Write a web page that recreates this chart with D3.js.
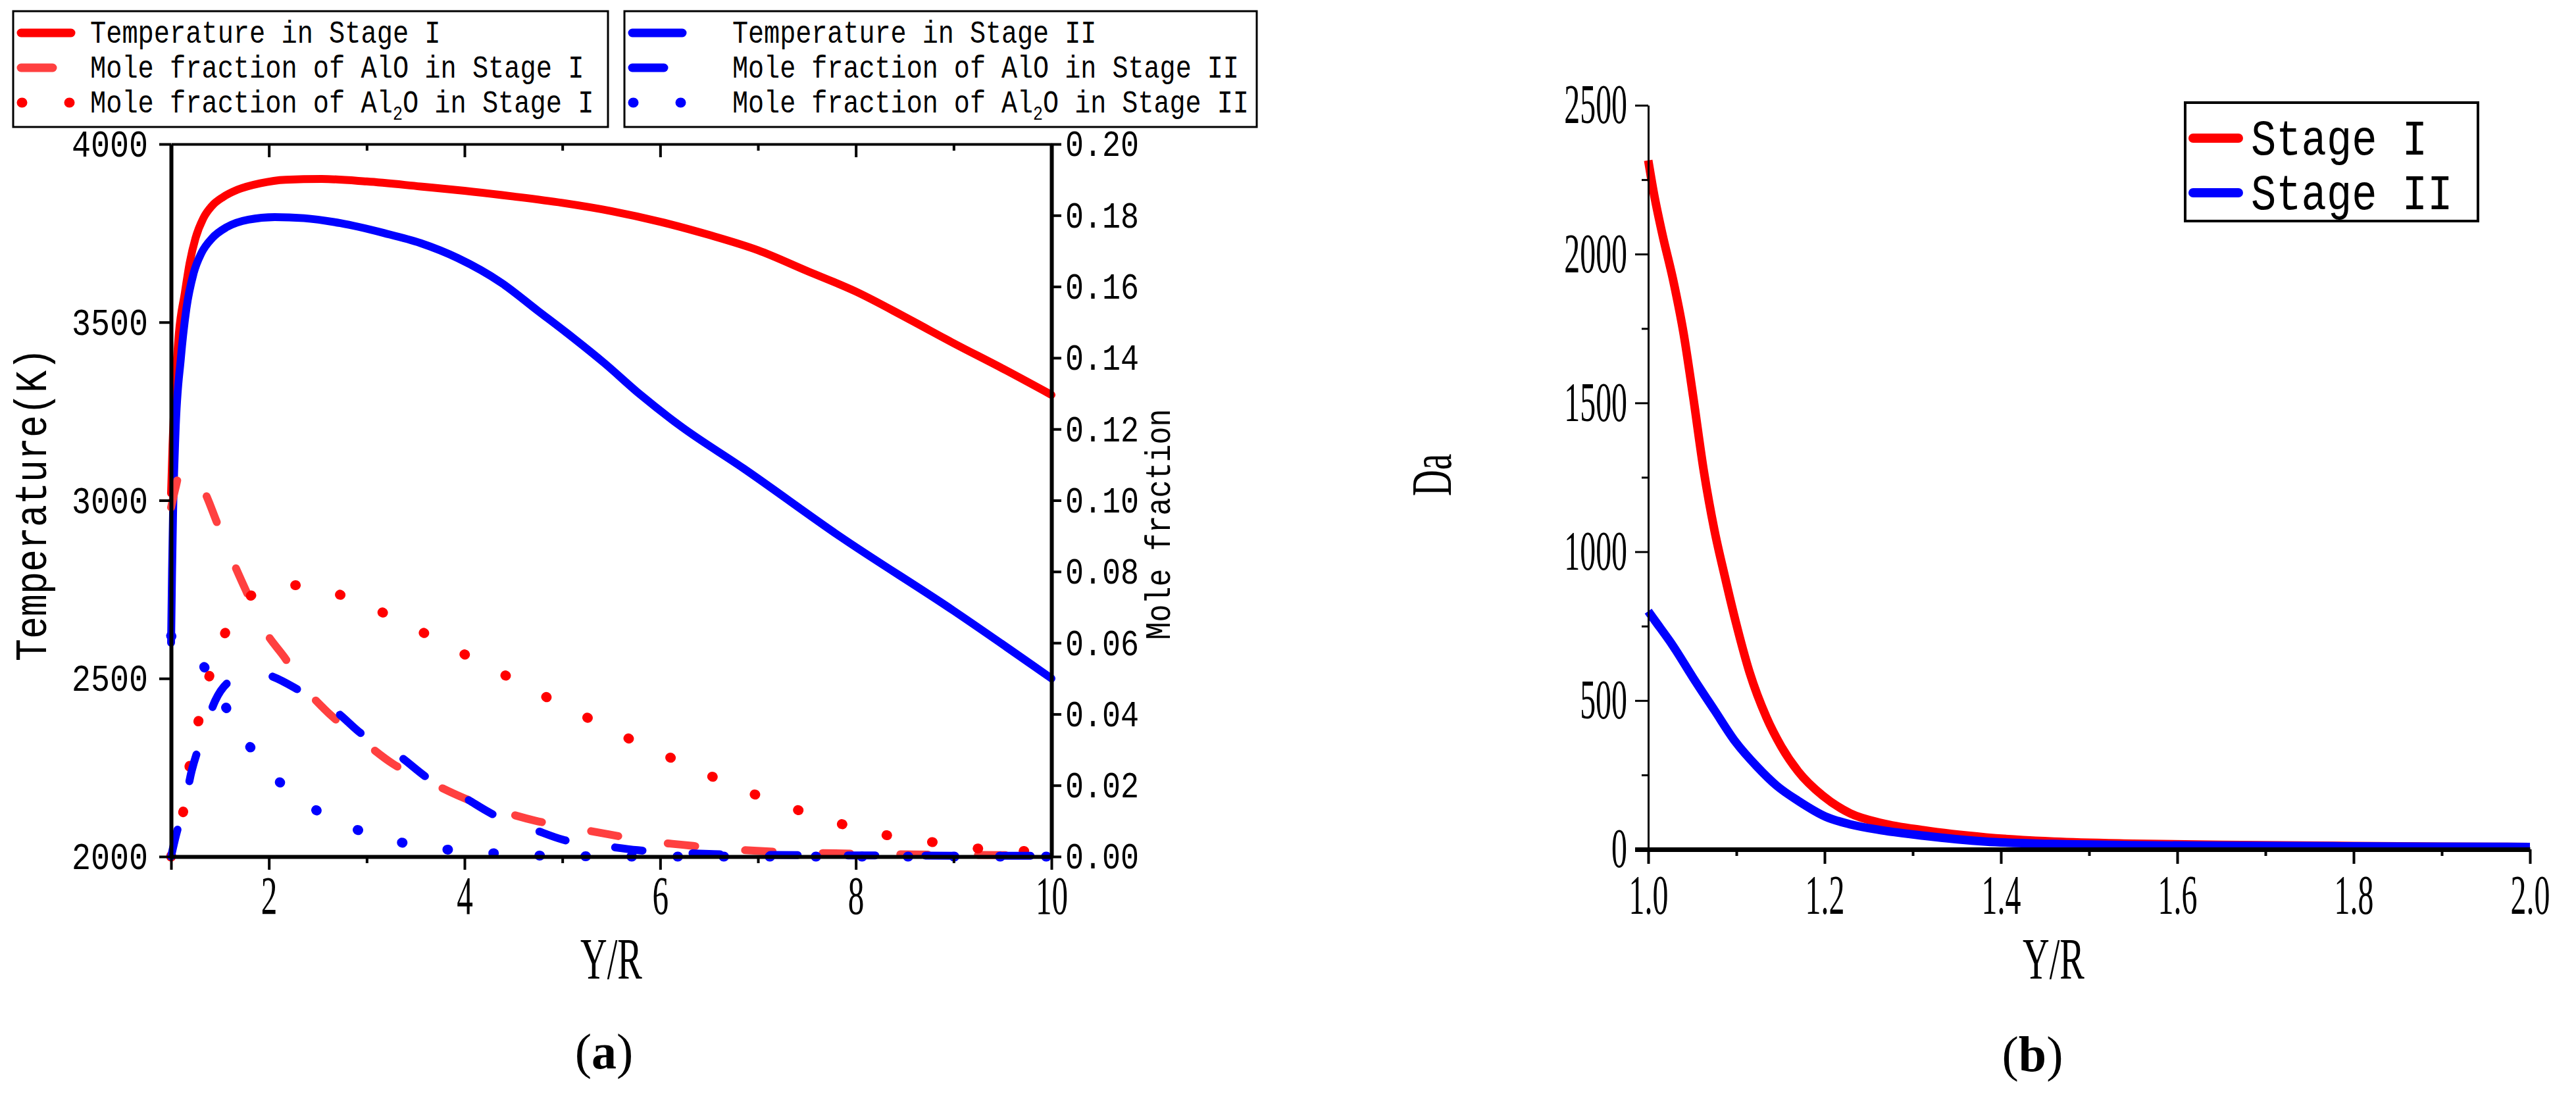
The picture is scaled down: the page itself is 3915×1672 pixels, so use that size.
<!DOCTYPE html>
<html>
<head>
<meta charset="utf-8">
<script src="https://cdn.jsdelivr.net/npm/d3@7"></script>
<style>
body { margin: 0; background: #fff; }
</style>
</head>
<body>
<svg id="chart" width="3915" height="1672"></svg>
<script>
// ---------- panel (a): temperature and mole fractions along Y/R ----------
var tempIx  = [1.0, 1.015, 1.045, 1.08, 1.14, 1.19, 1.25, 1.33, 1.42, 1.53, 1.68, 1.91, 2.17, 2.54, 3.0, 3.55, 4.0, 4.5, 5.0, 5.5, 6.0, 6.5, 7.0, 7.5, 8.0, 8.5, 9.0, 9.5, 10];
var tempIy  = [3020, 3154, 3329, 3469, 3581, 3666, 3736, 3792, 3827, 3851, 3872, 3890, 3900, 3902, 3895, 3881, 3869, 3853, 3835, 3812, 3782, 3745, 3702, 3644, 3586, 3515, 3441, 3370, 3296];
var tempIIx = [1.0, 1.01, 1.02, 1.045, 1.10, 1.157, 1.23, 1.31, 1.42, 1.57, 1.79, 2.06, 2.36, 2.73, 3.18, 3.55, 3.93, 4.38, 4.75, 5.05, 5.43, 5.8, 6.2, 6.85, 7.83, 9.0, 10];
var tempIIy = [2600, 2800, 2960, 3189, 3399, 3539, 3637, 3694, 3736, 3767, 3788, 3795, 3792, 3778, 3750, 3722, 3680, 3610, 3532, 3469, 3385, 3296, 3210, 3090, 2900, 2690, 2500];

var aloIx  = [1.0, 1.05, 1.09, 1.15, 1.25, 1.34, 1.47, 1.64, 1.77, 1.96, 2.16, 2.39, 2.56, 2.98, 3.27, 3.66, 3.97, 4.38, 4.72, 5.13, 5.48, 5.88, 6.23, 6.64, 6.99, 7.5, 8.0, 9.0, 10];
var aloIy  = [0.098, 0.104, 0.108, 0.1085, 0.1065, 0.1025, 0.0937, 0.0824, 0.0744, 0.0634, 0.0559, 0.0466, 0.0416, 0.032, 0.026, 0.0207, 0.0167, 0.0127, 0.0101, 0.008, 0.0062, 0.0043, 0.0033, 0.0022, 0.0016, 0.0011, 0.0008, 0.0005, 0.0004];
var al2oIx = [1.0, 1.03, 1.14, 1.2, 1.3, 1.41, 1.58, 1.87, 2.32, 2.76, 3.18, 3.59, 3.99, 4.40, 4.80, 5.22, 5.62, 6.04, 6.47, 6.87, 7.31, 7.74, 8.18, 8.65, 9.08, 9.55, 10];
var al2oIy = [0.0, 0.003, 0.0151, 0.0277, 0.0403, 0.0525, 0.0643, 0.074, 0.0762, 0.0732, 0.0683, 0.0627, 0.0569, 0.0511, 0.0453, 0.0395, 0.0339, 0.0286, 0.0232, 0.0185, 0.014, 0.0101, 0.0067, 0.0047, 0.0027, 0.0018, 0.0013];
var aloIIx  = [1.0, 1.06, 1.12, 1.21, 1.31, 1.45, 1.66, 1.85, 2.04, 2.34, 2.69, 2.95, 3.33, 3.62, 3.99, 4.28, 4.71, 5.01, 5.45, 5.77, 6.2, 6.55, 7.5, 10];
var aloIIy  = [0.0, 0.007, 0.0122, 0.024, 0.0328, 0.0437, 0.0504, 0.052, 0.0505, 0.0462, 0.0406, 0.0344, 0.0283, 0.0221, 0.0167, 0.012, 0.0076, 0.0047, 0.0029, 0.0018, 0.0011, 0.0007, 0.0004, 0.0002];
var al2oIIx = [1.0, 1.03, 1.32, 1.55, 1.78, 2.05, 2.44, 2.86, 3.30, 3.75, 4.21, 4.66, 5.12, 6.0, 10];
var al2oIIy = [0.062, 0.0609, 0.054, 0.0424, 0.0319, 0.0226, 0.0138, 0.008, 0.0043, 0.0022, 0.0011, 0.0004, 0.0001, 0.0, 0.0];

var tempTicks  = [2000, 2500, 3000, 3500, 4000];
var fracTicks  = [0, 0.02, 0.04, 0.06, 0.08, 0.10, 0.12, 0.14, 0.16, 0.18, 0.20];
var yrTicksA   = [2, 4, 6, 8, 10];
var yrMinorA   = [1, 3, 5, 7, 9];
var legendA1   = ["Temperature in Stage I", "Mole fraction of AlO in Stage I", "Mole fraction of Al_2O in Stage I"];
var legendA2   = ["Temperature in Stage II", "Mole fraction of AlO in Stage II", "Mole fraction of Al_2O in Stage II"];

// ---------- panel (b): Damkohler number along Y/R ----------
var daIx  = [1.0, 1.006, 1.016, 1.028, 1.04, 1.051, 1.063, 1.075, 1.087, 1.099, 1.115, 1.134, 1.151, 1.17, 1.198, 1.229, 1.265, 1.312, 1.383, 1.46, 1.55, 1.65, 1.8, 1.9, 2.0];
var daIy  = [2315, 2210, 2067, 1916, 1735, 1520, 1271, 1073, 915, 767, 594, 444, 345, 262, 180, 121, 88, 64, 40, 26, 19, 15, 11, 9, 8];
var daIIx = [1.0, 1.006, 1.028, 1.051, 1.075, 1.099, 1.123, 1.146, 1.17, 1.201, 1.229, 1.265, 1.312, 1.383, 1.46, 1.55, 1.65, 1.8, 2.0];
var daIIy = [800, 775, 684, 576, 468, 361, 279, 213, 163, 110, 84, 64, 46, 26, 18, 14, 12, 10, 8];

var yrTicksB = [1.0, 1.2, 1.4, 1.6, 1.8, 2.0];
var yrMinorB = [1.1, 1.3, 1.5, 1.7, 1.9];
var daTicks  = [0, 500, 1000, 1500, 2000, 2500];
var daMinor  = [250, 750, 1250, 1750, 2250];
var legendB  = ["Stage I", "Stage II"];

var RED = "#ff0000", LIGHTRED = "#ff4040", BLUE = "#0000ff";
var MONO = "'Liberation Mono', 'DejaVu Sans Mono', monospace";
var SERIF = "'Liberation Serif', 'DejaVu Serif', serif";

var svg = d3.select("#chart");
svg.append("rect").attr("width", 3915).attr("height", 1672).attr("fill", "#fff");

function pts(xs, ys) { return xs.map(function(d, i) { return [d, ys[i]]; }); }

// text in half-em cells, like the CJK font used in the original figure
function cells(sel, size) {
    sel.attr("font-family", MONO)
        .attr("font-size", size)
        .attr("fill", "#000")
        .attr("textLength", function() { return this.textContent.length * size * 0.5; })
        .attr("lengthAdjust", "spacingAndGlyphs");
}

// narrow serif: squeeze the natural width by k
function narrow(sel, size, k) {
    sel.attr("font-family", SERIF).attr("font-size", size).attr("fill", "#000");
    sel.each(function() {
        var w = this.getComputedTextLength();
        d3.select(this).attr("textLength", w * k).attr("lengthAdjust", "spacingAndGlyphs");
    });
}

// legend text with an optional "_2" subscript, squeezed horizontally by k
function label(g, str, x, y, size, k) {
    var parts = str.split("_2");
    var t = g.append("g").attr("transform", "translate(" + x + "," + y + ") scale(" + k + ",1)")
        .append("text").attr("font-family", MONO).attr("font-size", size).attr("fill", "#000");
    t.append("tspan").text(parts[0]);
    if (parts.length > 1) {
        t.append("tspan").attr("font-size", size * 0.62).attr("dy", size * 0.22).text("2");
        t.append("tspan").attr("dy", -size * 0.22).text(parts[1]);
    }
    return t;
}

function styleAxis(g, lineW, tickW) {
    g.attr("font-family", null).attr("font-size", null);
    g.select(".domain").attr("stroke", "#000").attr("stroke-width", lineW);
    g.selectAll(".tick line").attr("stroke", "#000").attr("stroke-width", tickW);
}

// ================= panel (a) =================
var ax = {left: 260, right: 1598, top: 219, bottom: 1302};

var xA = d3.scaleLinear().domain([1, 10]).range([ax.left, ax.right]);
var yTemp = d3.scaleLinear().domain([2000, 4000]).range([ax.bottom, ax.top]);
var yFrac = d3.scaleLinear().domain([0, 0.2]).range([ax.bottom, ax.top]);

var lineTemp = d3.line().x(function(d) { return xA(d[0]); }).y(function(d) { return yTemp(d[1]); }).curve(d3.curveMonotoneX);
var lineFrac = d3.line().x(function(d) { return xA(d[0]); }).y(function(d) { return yFrac(d[1]); }).curve(d3.curveMonotoneX);

var DASH = "42,76", DOT = "1,69";

var plotA = svg.append("g");
plotA.append("path").attr("d", lineTemp(pts(tempIx, tempIy)))
    .attr("fill", "none").attr("stroke", RED).attr("stroke-width", 12).attr("stroke-linecap", "round");
plotA.append("path").attr("d", lineTemp(pts(tempIIx, tempIIy)))
    .attr("fill", "none").attr("stroke", BLUE).attr("stroke-width", 12).attr("stroke-linecap", "round");
plotA.append("path").attr("d", lineFrac(pts(aloIx, aloIy)))
    .attr("fill", "none").attr("stroke", LIGHTRED).attr("stroke-width", 12)
    .attr("stroke-dasharray", DASH).attr("stroke-linecap", "round");
plotA.append("path").attr("d", lineFrac(pts(al2oIIx, al2oIIy)))
    .attr("fill", "none").attr("stroke", BLUE).attr("stroke-width", 15)
    .attr("stroke-dasharray", DOT).attr("stroke-linecap", "round");
plotA.append("path").attr("d", lineFrac(pts(al2oIx, al2oIy)))
    .attr("fill", "none").attr("stroke", RED).attr("stroke-width", 15)
    .attr("stroke-dasharray", DOT).attr("stroke-linecap", "round");
plotA.append("path").attr("d", lineFrac(pts(aloIIx, aloIIy)))
    .attr("fill", "none").attr("stroke", BLUE).attr("stroke-width", 12)
    .attr("stroke-dasharray", DASH).attr("stroke-linecap", "round");

// axes of (a)
var gTop = svg.append("g").attr("transform", "translate(0," + ax.top + ")")
    .call(d3.axisTop(xA).tickValues([2, 4, 6, 8]).tickSizeInner(-20).tickSizeOuter(0).tickFormat(""));
styleAxis(gTop, 4, 4);
var gTopMinor = svg.append("g").attr("transform", "translate(0," + ax.top + ")")
    .call(d3.axisTop(xA).tickValues([3, 5, 7, 9]).tickSizeInner(-10).tickSizeOuter(0).tickFormat(""));
styleAxis(gTopMinor, 0, 4);

var gBottom = svg.append("g").attr("transform", "translate(0," + ax.bottom + ")")
    .call(d3.axisBottom(xA).tickValues(yrTicksA).tickSize(20).tickPadding(9).tickSizeOuter(0).tickFormat(d3.format("d")));
styleAxis(gBottom, 6, 4);
gBottom.selectAll(".tick text").call(narrow, 82, 0.6);
var gBottomMinor = svg.append("g").attr("transform", "translate(0," + ax.bottom + ")")
    .call(d3.axisBottom(xA).tickValues(yrMinorA).tickSize(10).tickSizeOuter(0).tickFormat(""));
styleAxis(gBottomMinor, 0, 4);
gBottomMinor.selectAll(".tick").filter(function(d) { return d === 1; }).select("line").attr("y2", 20);

var gLeft = svg.append("g").attr("transform", "translate(" + ax.left + ",0)")
    .call(d3.axisLeft(yTemp).tickValues(tempTicks).tickSize(18).tickPadding(17).tickSizeOuter(0).tickFormat(d3.format("d")));
styleAxis(gLeft, 6, 4);
gLeft.selectAll(".tick text").call(cells, 58);

var gRight = svg.append("g").attr("transform", "translate(" + ax.right + ",0)")
    .call(d3.axisRight(yFrac).tickValues(fracTicks).tickSize(15).tickPadding(6).tickSizeOuter(0).tickFormat(d3.format(".2f")));
styleAxis(gRight, 6, 4);
gRight.selectAll(".tick text").call(cells, 56);

// axis titles of (a)
svg.append("text").attr("transform", "translate(70,767) rotate(-90)").attr("text-anchor", "middle")
    .text("Temperature(K)").call(cells, 68);
svg.append("text").attr("transform", "translate(1778,797) rotate(-90)").attr("text-anchor", "middle")
    .text("Mole fraction").call(cells, 54);
svg.append("text").attr("x", (ax.left + ax.right) / 2).attr("y", 1487).attr("text-anchor", "middle")
    .text("Y/R").call(narrow, 88, 0.64);

var capA = svg.append("text").attr("x", 918).attr("y", 1624).attr("text-anchor", "middle")
    .attr("font-family", SERIF).attr("font-size", 76).attr("fill", "#000");
capA.append("tspan").text("(");
capA.append("tspan").attr("font-weight", "bold").text("a");
capA.append("tspan").text(")");

// legends of (a)
function legendBox(x0, y0, w, h, color, names, textX, k) {
    var g = svg.append("g");
    g.append("rect").attr("x", x0).attr("y", y0).attr("width", w).attr("height", h)
        .attr("fill", "#fff").attr("stroke", "#000").attr("stroke-width", 3);
    var rows = [33, 86, 139];
    // solid sample
    g.append("line").attr("x1", x0 + 12).attr("x2", x0 + 88).attr("y1", y0 + rows[0]).attr("y2", y0 + rows[0])
        .attr("stroke", color).attr("stroke-width", 13).attr("stroke-linecap", "round");
    // dashed sample (one dash)
    g.append("line").attr("x1", x0 + 12).attr("x2", x0 + 60).attr("y1", y0 + rows[1]).attr("y2", y0 + rows[1])
        .attr("stroke", color === RED ? LIGHTRED : color).attr("stroke-width", 13).attr("stroke-linecap", "round");
    // dotted sample
    g.append("line").attr("x1", x0 + 13).attr("x2", x0 + 95).attr("y1", y0 + rows[2]).attr("y2", y0 + rows[2])
        .attr("stroke", color).attr("stroke-width", 15).attr("stroke-dasharray", "1,71").attr("stroke-linecap", "round");
    names.forEach(function(n, i) {
        label(g, n, textX, y0 + rows[i] + 15, 48.6, k);
    });
}
legendBox(20, 17, 904, 176, RED, legendA1, 137, 0.83);
legendBox(949, 17, 961, 176, BLUE, legendA2, 1113, 0.825);

// ================= panel (b) =================
var bx = {left: 2505, right: 3845, top: 160, bottom: 1291};

var xB = d3.scaleLinear().domain([1, 2]).range([bx.left, bx.right]);
var yDa = d3.scaleLinear().domain([0, 2500]).range([bx.bottom, bx.top]);

var lineDa = d3.line().x(function(d) { return xB(d[0]); }).y(function(d) { return yDa(d[1]); }).curve(d3.curveMonotoneX);

svg.append("path").attr("d", lineDa(pts(daIx, daIy)))
    .attr("fill", "none").attr("stroke", RED).attr("stroke-width", 13).attr("stroke-linejoin", "round");
svg.append("path").attr("d", lineDa(pts(daIIx, daIIy)))
    .attr("fill", "none").attr("stroke", BLUE).attr("stroke-width", 13).attr("stroke-linejoin", "round");

var gLeftB = svg.append("g").attr("transform", "translate(" + bx.left + ",0)")
    .call(d3.axisLeft(yDa).tickValues(daTicks).tickSize(20).tickPadding(12).tickSizeOuter(0).tickFormat(d3.format("d")));
styleAxis(gLeftB, 3, 3);
gLeftB.selectAll(".tick text").call(narrow, 84, 0.57);
var gLeftBMinor = svg.append("g").attr("transform", "translate(" + bx.left + ",0)")
    .call(d3.axisLeft(yDa).tickValues(daMinor).tickSize(10).tickSizeOuter(0).tickFormat(""));
styleAxis(gLeftBMinor, 0, 3);

var gBottomB = svg.append("g").attr("transform", "translate(0," + bx.bottom + ")")
    .call(d3.axisBottom(xB).tickValues(yrTicksB).tickSize(22).tickPadding(16).tickSizeOuter(0).tickFormat(d3.format(".1f")));
styleAxis(gBottomB, 7, 4);
gBottomB.selectAll(".tick text").call(narrow, 84, 0.57);
var gBottomBMinor = svg.append("g").attr("transform", "translate(0," + bx.bottom + ")")
    .call(d3.axisBottom(xB).tickValues(yrMinorB).tickSize(10).tickSizeOuter(0).tickFormat(""));
styleAxis(gBottomBMinor, 0, 4);
// the base line reaches a little left of the Da axis
svg.append("line").attr("x1", bx.left - 20).attr("x2", bx.left).attr("y1", bx.bottom + 0.5).attr("y2", bx.bottom + 0.5)
    .attr("stroke", "#000").attr("stroke-width", 7);

svg.append("text").attr("transform", "translate(2205,722) rotate(-90)").attr("text-anchor", "middle")
    .text("Da").call(narrow, 86, 0.64);
svg.append("text").attr("x", 3121).attr("y", 1487).attr("text-anchor", "middle")
    .text("Y/R").call(narrow, 88, 0.64);

var capB = svg.append("text").attr("x", 3089).attr("y", 1628).attr("text-anchor", "middle")
    .attr("font-family", SERIF).attr("font-size", 76).attr("fill", "#000");
capB.append("tspan").text("(");
capB.append("tspan").attr("font-weight", "bold").text("b");
capB.append("tspan").text(")");

// legend of (b)
var legB = svg.append("g");
legB.append("rect").attr("x", 3321).attr("y", 156).attr("width", 445).attr("height", 180)
    .attr("fill", "#fff").attr("stroke", "#000").attr("stroke-width", 4);
[RED, BLUE].forEach(function(c, i) {
    var yy = 210 + i * 83;
    legB.append("line").attr("x1", 3333).attr("x2", 3402).attr("y1", yy).attr("y2", yy)
        .attr("stroke", c).attr("stroke-width", 14).attr("stroke-linecap", "round");
    label(legB, legendB[i], 3421, yy + 25, 76, 0.84);
});
</script>
</body>
</html>
